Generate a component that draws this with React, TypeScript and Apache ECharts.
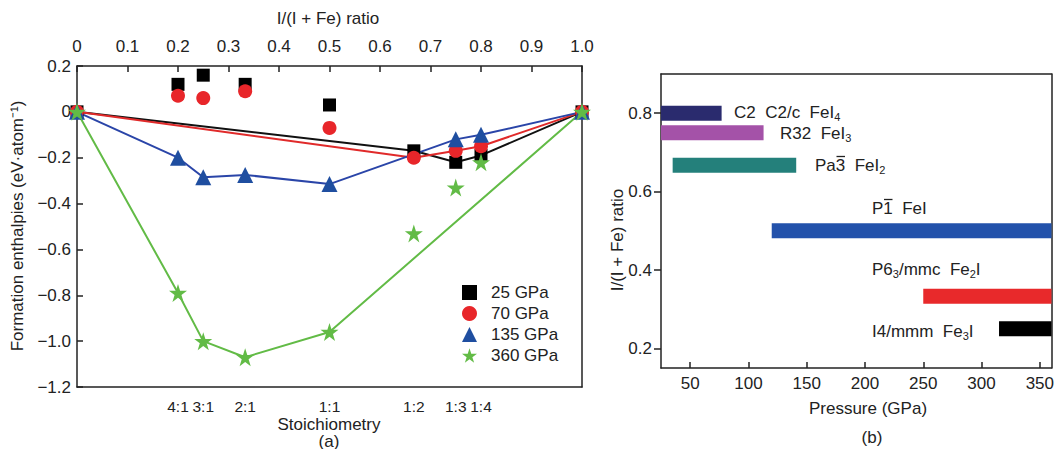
import React, { useEffect, useRef } from "react";
import * as echarts from "echarts";

const FONT = "'Liberation Sans', Arial, Helvetica, sans-serif";
const FS = 17;

// ---- Panel (a) data ----
const ratios = [0, 0.2, 0.25, 0.333, 0.5, 0.667, 0.75, 0.8, 1];
const stoichRatios = [0.2, 0.25, 0.333, 0.5, 0.667, 0.75, 0.8];
const stoichLabels = ["4:1", "3:1", "2:1", "1:1", "1:2", "1:3", "1:4"];

const h25 = [0, 0.12, 0.16, 0.12, 0.03, -0.17, -0.22, -0.19, 0];
const h70 = [0, 0.07, 0.06, 0.09, -0.07, -0.2, -0.17, -0.15, 0];
const h135 = [0, -0.2, -0.285, -0.275, -0.315, null, -0.12, -0.1, 0];
const h360 = [0, -0.79, -1.0, -1.07, -0.96, -0.53, -0.33, -0.22, 0];

const hull25 = [0, 5, 6, 7, 8];
const hull70 = [0, 5, 6, 7, 8];
const hull135 = [0, 1, 2, 3, 4, 6, 7, 8];
const hull360 = [0, 1, 2, 3, 4, 8];

const pressures = ["25 GPa", "70 GPa", "135 GPa", "360 GPa"];
const pColors = ["#000000", "#e8262a", "#1f4ea0", "#62bb46"];
const lineColors = ["#111111", "#e02a2a", "#2a45a8", "#62bb46"];

// ---- Panel (b) data ----
const phaseRatio = [0.8, 0.75, 0.667, 0.5, 0.333, 0.25];
const phaseStart = [25, 25, 35, 120, 250, 315];
const phaseEnd = [77, 113, 141, 360, 360, 360];
const phaseColor = ["#2a2b6e", "#a452a8", "#24807b", "#2352ab", "#e8292b", "#000000"];
const pressureTicks = [50, 100, 150, 200, 250, 300, 350];
const ratioTicks = [0.2, 0.4, 0.6, 0.8];

const STAR =
  "path://M50,0 L61.2,34.5 L97.6,34.5 L68.2,55.9 L79.4,90.5 L50,69.1 L20.6,90.5 L31.8,55.9 L2.4,34.5 L38.8,34.5 Z";
const symbols = ["rect", "circle", "triangle", STAR];
const symSizes = [13, 14, 16, 18];

const axisColor = "#222";
const lbl = { fontSize: FS, color: "#222", fontFamily: FONT };

function buildOption() {
  const all = [h25, h70, h135, h360];
  const hulls = [hull25, hull70, hull135, hull360];

  const lineSeries = all.map((vals, k) => ({
    name: pressures[k] + " hull",
    type: "line",
    xAxisIndex: 0,
    yAxisIndex: 0,
    data: hulls[k].map((i) => [ratios[i], vals[i]]),
    symbol: "none",
    lineStyle: { color: lineColors[k], width: 2 },
    z: 2,
  }));

  const scatterSeries = all.map((vals, k) => ({
    name: pressures[k],
    type: "scatter",
    xAxisIndex: 0,
    yAxisIndex: 0,
    data: ratios.map((r, i) => [r, vals[i]]).filter((d) => d[1] !== null),
    symbol: symbols[k],
    symbolSize: symSizes[k],
    itemStyle: { color: pColors[k], opacity: 1 },
    z: 3 + k,
  }));

  const barSeries = {
    type: "custom",
    name: "phases",
    xAxisIndex: 2,
    yAxisIndex: 2,
    data: phaseRatio.map((r, i) => [phaseStart[i], phaseEnd[i], r, i]),
    renderItem: (params: any, api: any) => {
      const s = api.coord([api.value(0), api.value(2)]);
      const e = api.coord([api.value(1), api.value(2)]);
      const idx = api.value(3);
      const h = 15;
      return {
        type: "rect",
        shape: { x: s[0], y: s[1] - h / 2, width: e[0] - s[0], height: h },
        style: { fill: phaseColor[idx] },
      };
    },
    clip: true,
  };

  const rich = {
    s: { fontSize: 11, padding: [10, 0, 0, 0], fontFamily: FONT, color: "#222" },
  };
  const phaseText = (x: number, y: number, t: string) => ({
    type: "text",
    x,
    y,
    style: { text: t, rich, font: `${FS}px ${FONT}`, fill: "#222", align: "left", verticalAlign: "middle" },
  });

  const overline = (x1: number, x2: number, y: number) => ({
    type: "line",
    shape: { x1, y1: y, x2, y2: y },
    style: { stroke: "#222", lineWidth: 1.3 },
  });

  const plainText = (x: number, y: number, t: string, rot = 0) => ({
    type: "text",
    x,
    y,
    rotation: rot,
    style: { text: t, font: `${FS}px ${FONT}`, fill: "#222", align: "center", verticalAlign: "middle" },
  });

  return {
    animation: false,
    textStyle: { fontFamily: FONT },
    grid: [
      { left: 77, top: 66, width: 505, height: 321 },
      { left: 661, top: 74, width: 394, height: 294 },
    ],
    legend: {
      data: pressures.map((p, k) => ({ name: p, icon: symbols[k] })),
      orient: "vertical",
      left: 462,
      top: 284,
      padding: 0,
      itemWidth: 15,
      itemHeight: 15,
      itemGap: 4,
      textStyle: { fontSize: FS, lineHeight: 15, color: "#222", fontFamily: FONT, padding: [0, 0, 0, 9] },
      selectedMode: false,
    },
    xAxis: [
      {
        gridIndex: 0,
        type: "value",
        position: "top",
        min: 0,
        max: 1,
        interval: 0.1,
        axisLine: { onZero: false, lineStyle: { color: axisColor, width: 1.5 } },
        axisTick: { inside: true, length: 6, lineStyle: { color: axisColor, width: 1.5 } },
        axisLabel: { ...lbl, margin: 11, formatter: (v: number) => (v === 0 ? "0" : v.toFixed(1)) },
        splitLine: { show: false },
      },
      {
        gridIndex: 0,
        type: "value",
        position: "bottom",
        min: 0,
        max: 1,
        axisLine: { onZero: false, lineStyle: { color: axisColor, width: 1.5 } },
        axisTick: { show: false },
        axisLabel: {
          ...lbl,
          fontSize: 15.5,
          margin: 11,
          customValues: stoichRatios,
          formatter: (v: number) => {
            let best = 0;
            stoichRatios.forEach((r, i) => {
              if (Math.abs(r - v) < Math.abs(stoichRatios[best] - v)) best = i;
            });
            return stoichLabels[best];
          },
        },
        splitLine: { show: false },
      },
      {
        gridIndex: 1,
        type: "value",
        position: "bottom",
        min: 25,
        max: 360,
        axisLine: { onZero: false, lineStyle: { color: axisColor, width: 1.5 } },
        axisTick: { inside: true, length: 6, customValues: pressureTicks, lineStyle: { color: axisColor, width: 1.5 } },
        axisLabel: { ...lbl, margin: 7, customValues: pressureTicks },
        splitLine: { show: false },
      },
      {
        gridIndex: 1,
        type: "value",
        position: "top",
        min: 25,
        max: 360,
        axisLine: { onZero: false, lineStyle: { color: axisColor, width: 1.5 } },
        axisTick: { show: false },
        axisLabel: { show: false },
        splitLine: { show: false },
      },
    ],
    yAxis: [
      {
        gridIndex: 0,
        type: "value",
        min: -1.2,
        max: 0.2,
        interval: 0.2,
        axisLine: { onZero: false, lineStyle: { color: axisColor, width: 1.5 } },
        axisTick: { inside: true, length: 6, lineStyle: { color: axisColor, width: 1.5 } },
        axisLabel: {
          ...lbl,
          margin: 6,
          formatter: (v: number) => (Math.abs(v) < 1e-9 ? "0" : v.toFixed(1).replace("-", "\u2212")),
        },
        splitLine: { show: false },
      },
      {
        gridIndex: 0,
        type: "value",
        position: "right",
        min: -1.2,
        max: 0.2,
        axisLine: { show: true, onZero: false, lineStyle: { color: axisColor, width: 1.5 } },
        axisTick: { show: false },
        axisLabel: { show: false },
        splitLine: { show: false },
      },
      {
        gridIndex: 1,
        type: "value",
        min: 0.15,
        max: 0.9,
        axisLine: { show: true, onZero: false, lineStyle: { color: axisColor, width: 1.5 } },
        axisTick: { show: true, inside: false, length: 7, customValues: ratioTicks, lineStyle: { color: axisColor, width: 1.5 } },
        axisLabel: { ...lbl, margin: 9, customValues: ratioTicks, formatter: (v: number) => v.toFixed(1) },
        splitLine: { show: false },
      },
      {
        gridIndex: 1,
        type: "value",
        position: "right",
        min: 0.15,
        max: 0.9,
        axisLine: { show: true, onZero: false, lineStyle: { color: axisColor, width: 1.5 } },
        axisTick: { show: false },
        axisLabel: { show: false },
        splitLine: { show: false },
      },
    ],
    graphic: [
      plainText(328, 18, "I/(I + Fe) ratio"),
      plainText(17, 226, "Formation enthalpies (eV\u00b7atom\u207b\u00b9)", Math.PI / 2),
      plainText(329, 424, "Stoichiometry"),
      plainText(329, 441, "(a)"),
      plainText(617, 240, "I/(I + Fe) ratio", Math.PI / 2),
      plainText(868, 408, "Pressure (GPa)"),
      plainText(872, 437, "(b)"),
      phaseText(734, 112, "C2  C2/c  FeI{s|4}"),
      phaseText(780, 133, "R32  FeI{s|3}"),
      phaseText(815, 165, "Pa3  FeI{s|2}"),
      overline(836.5, 845, 156.5),
      phaseText(872, 208, "P1  FeI"),
      overline(884, 892.5, 199.5),
      phaseText(872, 269, "P6{s|3}/mmc  Fe{s|2}I"),
      phaseText(872, 331, "I4/mmm  Fe{s|3}I"),
    ],
    series: [...lineSeries, ...scatterSeries, barSeries],
  };
}

export default function App() {
  const ref = useRef<HTMLDivElement>(null);
  useEffect(() => {
    if (!ref.current) return;
    const chart = echarts.init(ref.current, undefined, { renderer: "svg" });
    chart.setOption(buildOption() as any);
    return () => chart.dispose();
  }, []);
  return (
    <div
      ref={ref}
      style={{ position: "fixed", left: 0, top: 0, width: 1057, height: 449, background: "#fff" }}
    />
  );
}
